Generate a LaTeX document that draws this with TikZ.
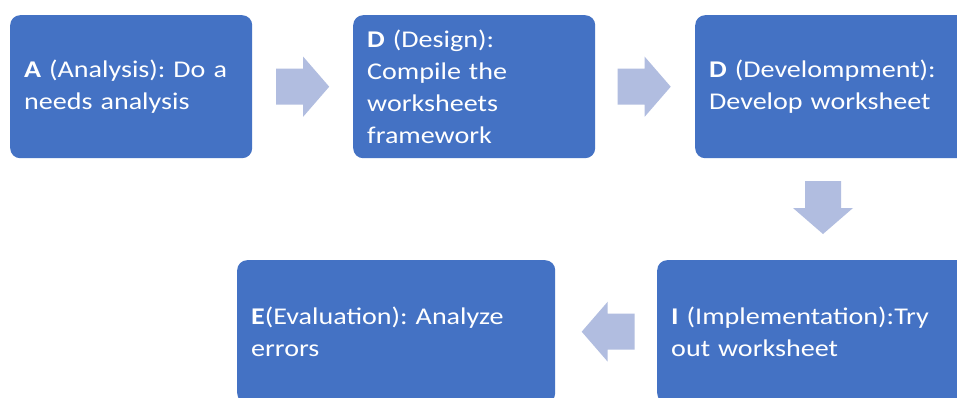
\documentclass[tikz,border=0pt]{standalone}
\usepackage{fontspec}
\setmainfont{Carlito}[FakeStretch=1.17]
\usetikzlibrary{calc}
\definecolor{boxblue}{HTML}{4472C4}
\definecolor{arrowblue}{HTML}{B1BDE0}
\tikzset{
  stage/.style={rectangle, rounded corners=10pt, fill=boxblue, text=white,
    inner xsep=14pt, inner ysep=0pt, align=left, minimum height=143pt,
    font=\fontsize{24}{32}\selectfont\frenchspacing, anchor=north west},
  blockarrow/.pic={
    \fill[arrowblue] (-26.5,-18) -- (0.5,-18) -- (0.5,-30) -- (26.5,0)
      -- (0.5,30) -- (0.5,18) -- (-26.5,18) -- cycle;
  }
}
\begin{document}
\frenchspacing
\begin{tikzpicture}[x=1pt, y=-1pt]
  \useasboundingbox (0,0) rectangle (957,398);
  \fill[white] (0,0) rectangle (957,398);
  \clip (0,0) rectangle (957,398);

  % top row
  \node[stage, minimum width=242pt, text width=214pt] (an) at (10,15)
    {\textbf{A} (Analysis): Do a\\needs analysis};
  \node[stage, minimum width=242pt, text width=214pt] (de) at (353,15)
    {\textbf{D} (Design):\\Compile the\\worksheets\\framework};
  \node[stage, minimum width=290pt, text width=262pt] (dv) at (695,15)
    {\textbf{D} (Develompment):\\Develop worksheet};

  % bottom row
  \node[stage, minimum width=318pt, text width=290pt] (ev) at (237,260)
    {\textbf{E}(Evaluation): Analyze\\errors};
  \node[stage, minimum width=330pt, text width=302pt] (im) at (657,260)
    {\textbf{I} (Implementation):Try\\out worksheet};

  % block arrows between the stages
  \pic at ($(an.east)!0.5!(de.west)$) {blockarrow};
  \pic at ($(de.east)!0.5!(dv.west)+(-1,0)$) {blockarrow};
  \pic[rotate=-90] at (823,207.5) {blockarrow};
  \pic[rotate=180] at ($(ev.east)!0.5!(im.west)+(2,0)$) {blockarrow};
\end{tikzpicture}
\end{document}
